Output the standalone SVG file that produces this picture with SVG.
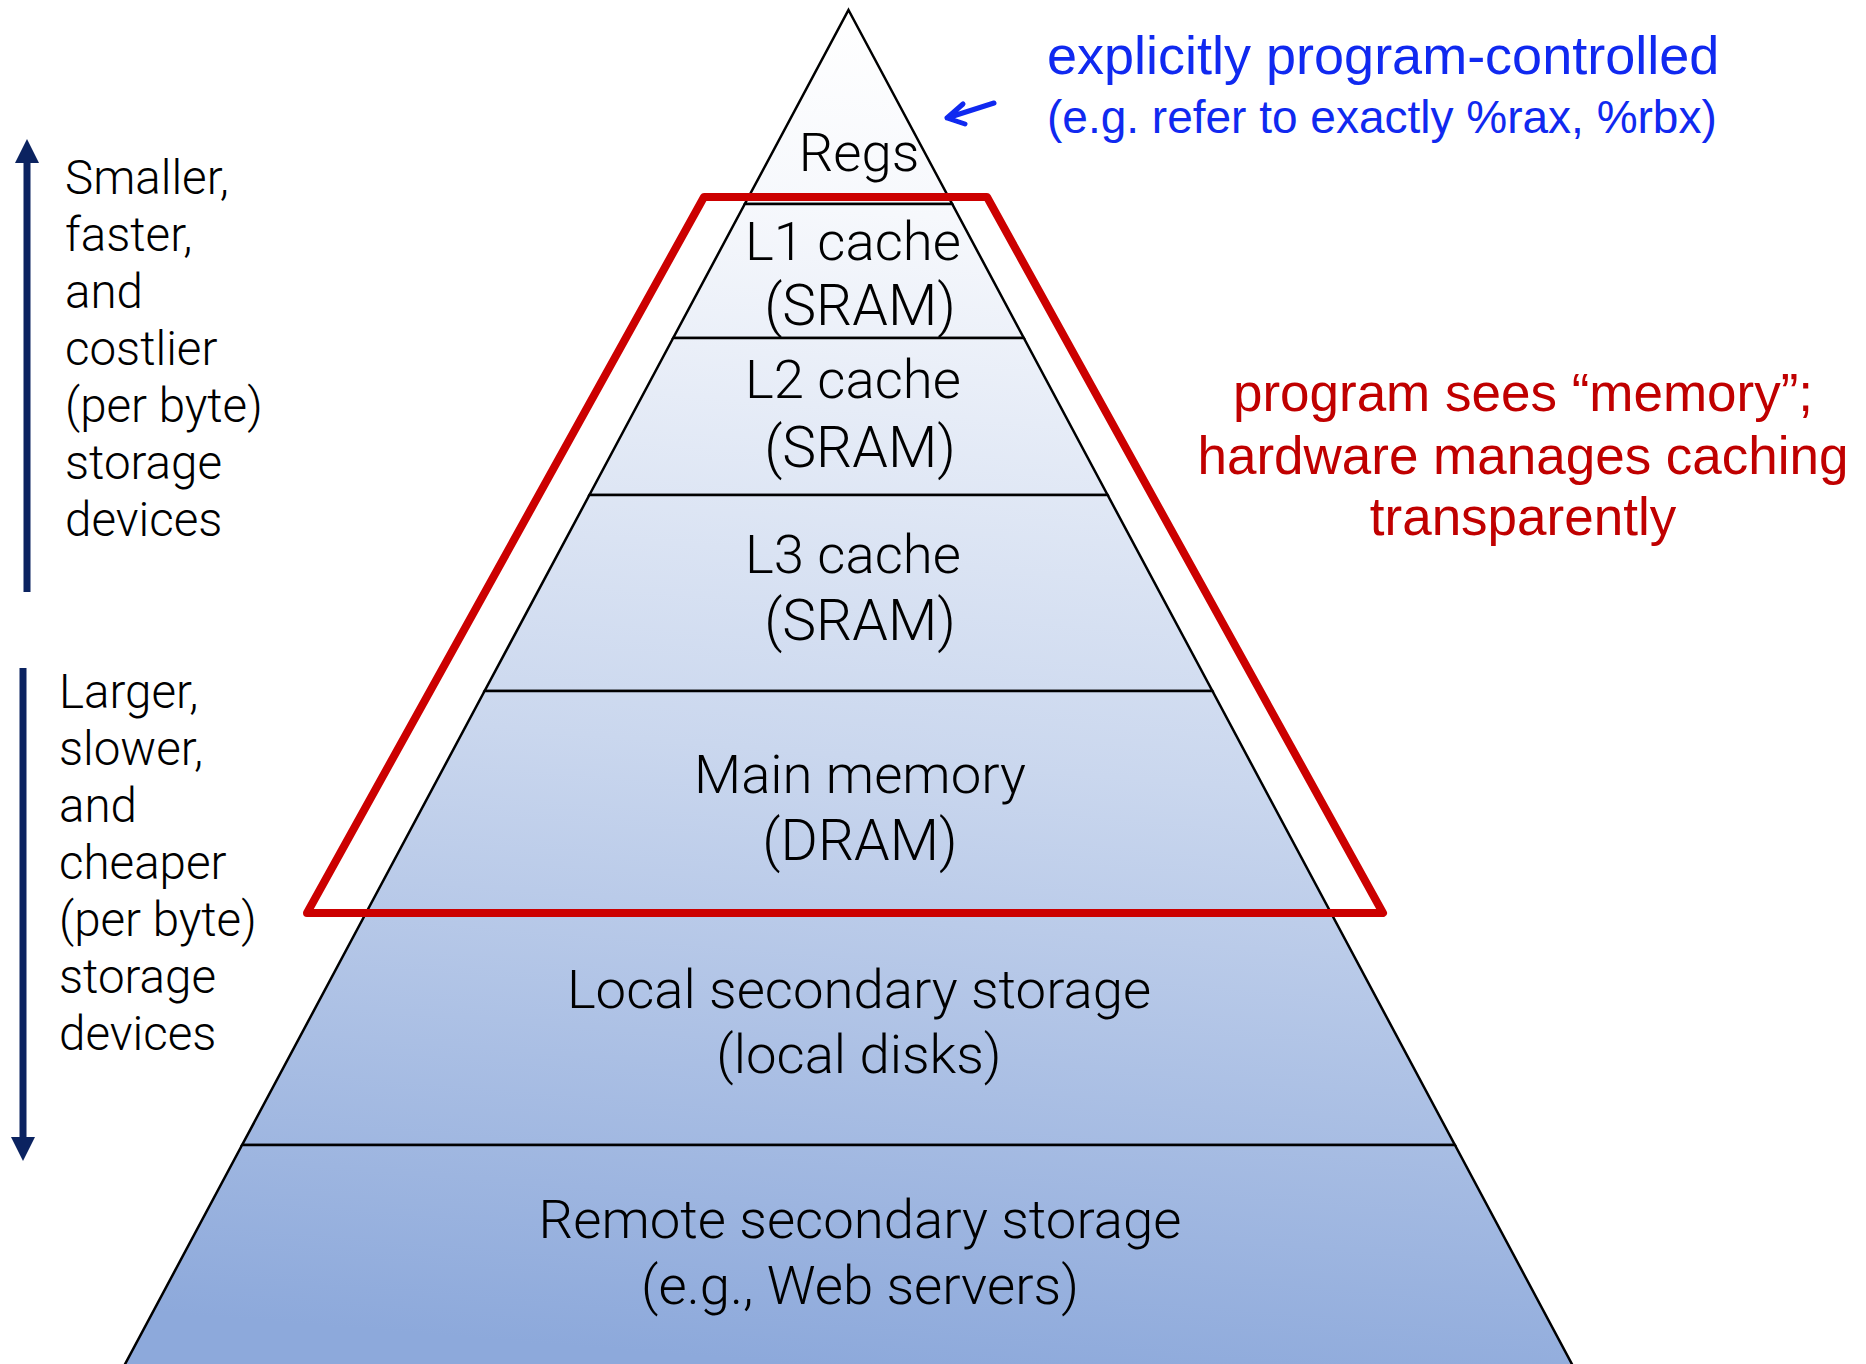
<svg xmlns="http://www.w3.org/2000/svg" width="1866" height="1364" viewBox="0 0 1866 1364">
<defs>
<linearGradient id="pg" gradientUnits="userSpaceOnUse" x1="900" y1="10" x2="790" y2="1364">
<stop offset="0" stop-color="#FFFFFF"/>
<stop offset="0.15" stop-color="#F6F8FC"/>
<stop offset="0.55" stop-color="#CAD7EE"/>
<stop offset="1" stop-color="#8DA9DB"/>
</linearGradient>
</defs>
<style>
.tier{fill:url(#pg);stroke:#000;stroke-width:2.5;stroke-linejoin:miter}
.lbl{font-family:Roboto,"Liberation Sans",Arial,sans-serif;font-weight:300;font-size:54.5px;fill:#000;text-anchor:middle}
.caps{font-size:57px}
.side{font-family:Roboto,"Liberation Sans",Arial,sans-serif;font-weight:300;font-size:47.5px;fill:#000}
.blue{font-family:"Liberation Sans",Arial,sans-serif;fill:#1029F0}
.red{font-family:"Liberation Sans",Arial,sans-serif;font-size:53px;fill:#C00000;text-anchor:middle}
.navy{stroke:#0B2360;stroke-width:7;fill:none}
.navyfill{fill:#0B2360}
</style>
<rect width="1866" height="1364" fill="#FFFFFF"/>

<g id="regs">
<polygon class="tier" points="848.5,10 952.2,204 744.8,204"/>
<text class="lbl" x="859" y="171">Regs</text>
</g>
<g id="l1">
<polygon class="tier" points="744.8,204 952.2,204 1023.8,338 673.2,338"/>
<text class="lbl" x="853" y="260">L1 cache</text>
<text class="lbl caps" x="860" y="325">(SRAM)</text>
</g>
<g id="l2">
<polygon class="tier" points="673.2,338 1023.8,338 1107.6,495 589.4,495"/>
<text class="lbl" x="853" y="398">L2 cache</text>
<text class="lbl caps" x="860" y="467">(SRAM)</text>
</g>
<g id="l3">
<polygon class="tier" points="589.4,495 1107.6,495 1212.4,691 484.6,691"/>
<text class="lbl" x="853" y="573">L3 cache</text>
<text class="lbl caps" x="860" y="640">(SRAM)</text>
</g>
<g id="main">
<polygon class="tier" points="484.6,691 1212.4,691 1331,913 366,913"/>
<text class="lbl" x="860" y="793">Main memory</text>
<text class="lbl caps" x="860" y="860">(DRAM)</text>
</g>
<g id="local">
<polygon class="tier" points="366,913 1331,913 1454.9,1145 242.1,1145"/>
<text class="lbl" x="859" y="1008">Local secondary storage</text>
<text class="lbl" x="859" y="1073">(local disks)</text>
</g>
<g id="remote">
<polygon class="tier" points="242.1,1145 1454.9,1145 1575.1,1370 121.9,1370"/>
<text class="lbl" x="860" y="1238">Remote secondary storage</text>
<text class="lbl" x="860" y="1304">(e.g., Web servers)</text>
</g>

<g id="cache-highlight">
<polygon points="704,197 987,197 1383,913 307,913" fill="none" stroke="#CC0000" stroke-width="8" stroke-linejoin="round"/>
</g>

<g id="note-explicit">
<text class="blue" x="1047" y="74" font-size="54">explicitly program-controlled</text>
<text class="blue" x="1047" y="133" font-size="46">(e.g. refer to exactly %rax, %rbx)</text>
</g>

<g id="note-transparent">
<text class="red" x="1523" y="411">program sees “memory”;</text>
<text class="red" x="1523" y="474">hardware manages caching</text>
<text class="red" x="1523" y="535">transparently</text>
</g>

<g id="note-smaller">
<text class="side" x="65" y="194">Smaller,</text>
<text class="side" x="65" y="251">faster,</text>
<text class="side" x="65" y="308">and</text>
<text class="side" x="65" y="365">costlier</text>
<text class="side" x="65" y="422">(per byte)</text>
<text class="side" x="65" y="479">storage</text>
<text class="side" x="65" y="536">devices</text>
</g>

<g id="note-larger">
<text class="side" x="59" y="708">Larger,</text>
<text class="side" x="59" y="765">slower,</text>
<text class="side" x="59" y="822">and</text>
<text class="side" x="59" y="879">cheaper</text>
<text class="side" x="59" y="936">(per byte)</text>
<text class="side" x="59" y="993">storage</text>
<text class="side" x="59" y="1050">devices</text>
</g>

<g id="connectors">
<line class="navy" x1="27" y1="592" x2="27" y2="158"/>
<polygon class="navyfill" points="15,163 27,139 39,163"/>
<line class="navy" x1="23" y1="668" x2="23" y2="1142"/>
<polygon class="navyfill" points="11,1137 23,1161 35,1137"/>
<path d="M994,103 L947,118 M963,104 L947,118 L965,124" fill="none" stroke="#1029F0" stroke-width="5" stroke-linecap="round" stroke-linejoin="round"/>
</g>
</svg>
